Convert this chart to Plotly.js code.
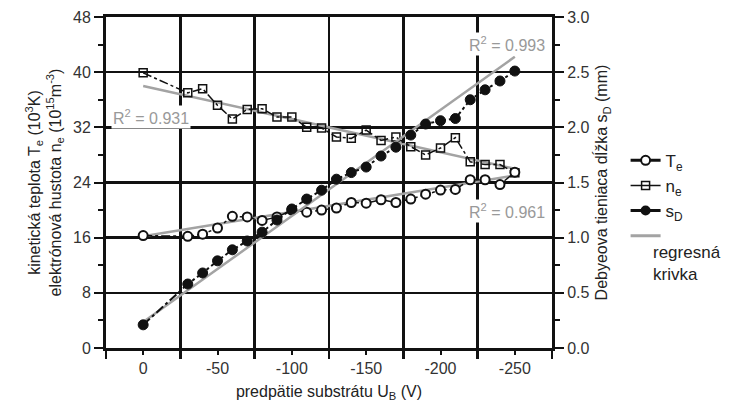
<!DOCTYPE html>
<html><head><meta charset="utf-8">
<script src="https://cdn.plot.ly/plotly-3.0.1.min.js"></script>
<style>html,body{margin:0;padding:0;background:#fff}#c{width:729px;height:408px}</style>
</head><body><div id="c"></div>
<script>
const bias = [0,-30,-40,-50,-60,-70,-80,-90,-100,-110,-120,-130,-140,-150,-160,-170,-180,-190,-200,-210,-220,-230,-240,-250];
const Te = [16.3,16.2,16.5,17.4,19.1,19.0,18.5,19.0,20.0,19.7,20.0,20.3,21.1,21.0,21.5,21.1,21.6,22.3,22.9,23.0,24.4,24.4,23.7,25.5];
const ne = [39.9,37.0,37.6,35.2,33.2,34.6,34.7,33.5,33.5,32.0,31.9,30.6,30.4,31.6,30.1,30.6,29.2,28.0,29.0,30.5,27.0,26.6,26.6,25.4];
const sD = [0.21,0.58,0.68,0.79,0.89,0.97,1.05,1.16,1.26,1.35,1.43,1.53,1.59,1.64,1.74,1.82,1.93,2.03,2.06,2.08,2.25,2.34,2.42,2.51];
// regression lines (end points)
const regX = [0,-252];
const regTe = [16.2,25.1];
const regNe = [38.0,25.9];
const regSDx = [0,-250];
const regSD = [0.235,2.64];
const r2Labels = ['R<sup>2</sup> = 0.931','R<sup>2</sup> = 0.993','R<sup>2</sup> = 0.961'];
const xTickVals = [0,-50,-100,-150,-200,-250];
const xTickText = ['0','-50','-100','-150','-200','-250'];
const regLegendText = 'regresná<br>krivka';

const gray = '#a3a3a3';
const F = 'Liberation Sans, Arial, sans-serif';
const traces = [
  {x:regX,y:regNe,mode:'lines',line:{color:gray,width:2.5},showlegend:false,hoverinfo:'skip'},
  {x:regX,y:regTe,mode:'lines',line:{color:gray,width:2.5},showlegend:false,hoverinfo:'skip'},
  {x:regSDx,y:regSD,yaxis:'y2',mode:'lines',line:{color:gray,width:2.5},showlegend:false,hoverinfo:'skip'},
  {x:bias,y:ne,mode:'lines+markers',line:{color:'#111',width:1.5,dash:'dashdot'},
   marker:{symbol:'square-open',size:8,color:'#111',line:{width:1.5}},showlegend:false},
  {x:bias,y:Te,mode:'lines+markers',line:{color:'#111',width:1.5,dash:'dashdot'},
   marker:{symbol:'circle',size:9,color:'#fff',line:{color:'#111',width:2}},showlegend:false},
  {x:bias,y:sD,yaxis:'y2',mode:'lines+markers',line:{color:'#111',width:2,dash:'dashdot'},
   marker:{symbol:'circle',size:10,color:'#111',line:{color:'#111',width:1}},showlegend:false},
  // legend swatches
  {x:[null],y:[null],name:'T<sub>e</sub>',mode:'lines+markers',line:{color:'#111',width:3},
   marker:{symbol:'circle',size:9,color:'#fff',line:{color:'#111',width:2}}},
  {x:[null],y:[null],name:'n<sub>e</sub>',mode:'lines+markers',line:{color:'#111',width:1.5},
   marker:{symbol:'square-open',size:8,color:'#111',line:{width:1.5}}},
  {x:[null],y:[null],name:'s<sub>D</sub>',mode:'lines+markers',line:{color:'#111',width:3},
   marker:{symbol:'circle',size:10,color:'#111'}},
  {x:[null],y:[null],name:' ',mode:'lines',line:{color:gray,width:3}}
];
const layout = {
  width:729,height:408,margin:{l:106,r:177,t:17,b:60,autoexpand:false},
  paper_bgcolor:'#fff',plot_bgcolor:'#fff',
  font:{family:F,size:16,color:'#222'},
  showlegend:true,
  legend:{x:1.165,y:0.62,xanchor:'left',yanchor:'top',font:{size:17,color:'#222'},
    bgcolor:'rgba(0,0,0,0)',tracegroupgap:0,valign:'middle',itemwidth:30},
  xaxis:{range:[25,-275],tickmode:'array',tickvals:xTickVals,ticktext:xTickText,showgrid:false,zeroline:false,
    ticks:'outside',ticklen:4,tickwidth:2,tickcolor:'#111',
    minor:{tick0:25,dtick:50,showgrid:true,gridcolor:'#111',gridwidth:2.5,ticks:'outside',ticklen:8,tickwidth:2.5,tickcolor:'#111'},
    showline:true,linecolor:'#111',linewidth:3,mirror:true,
    tickfont:{size:16,color:'#333'},
    title:{text:'predpätie substrátu U<sub>B</sub> (V)',font:{size:16,color:'#222'},standoff:10}},
  yaxis:{range:[0,48],tick0:0,dtick:8,showgrid:true,gridcolor:'#111',gridwidth:2.5,zeroline:false,
    ticks:'outside',ticklen:9,tickwidth:2,tickcolor:'#111',
    minor:{dtick:4,ticks:'outside',ticklen:5,tickwidth:2,tickcolor:'#111'},
    showline:true,linecolor:'#111',linewidth:3,
    tickfont:{size:16,color:'#333'},
    title:{text:'kinetická teplota T<sub>e</sub> (10<sup>3</sup>K)<br>elektrónová hustota n<sub>e</sub> (10<sup>15</sup>m<sup>-3</sup>)',font:{size:16,color:'#222'},standoff:8}},
  yaxis2:{range:[0,3],tick0:0,dtick:0.5,tickformat:'.1f',overlaying:'y',side:'right',showgrid:false,zeroline:false,
    ticks:'outside',ticklen:9,tickwidth:2,tickcolor:'#111',
    minor:{dtick:0.25,ticks:'outside',ticklen:5,tickwidth:2,tickcolor:'#111'},
    showline:true,linecolor:'#111',linewidth:3,
    tickfont:{size:16,color:'#333'},
    title:{text:'Debyeova tieniaca dĺžka s<sub>D</sub> (mm)',font:{size:16,color:'#222'},standoff:8}},
  annotations:[
    {text:r2Labels[0],xref:'paper',yref:'paper',x:0.1,y:0.698,xanchor:'center',yanchor:'middle',showarrow:false,font:{size:16,color:'#999'},bgcolor:'#fff'},
    {text:r2Labels[1],xref:'paper',yref:'paper',x:0.9,y:0.918,xanchor:'center',yanchor:'middle',showarrow:false,font:{size:16,color:'#999'},bgcolor:'#fff'},
    {text:r2Labels[2],xref:'paper',yref:'paper',x:0.9,y:0.414,xanchor:'center',yanchor:'middle',showarrow:false,font:{size:16,color:'#999'},bgcolor:'#fff'},
    {text:regLegendText,xref:'paper',yref:'paper',x:1.222,y:0.322,xanchor:'left',yanchor:'top',align:'left',showarrow:false,font:{size:17,color:'#222'}}
  ]
};
Plotly.newPlot('c',traces,layout,{displayModeBar:false,staticPlot:true});
</script></body></html>
